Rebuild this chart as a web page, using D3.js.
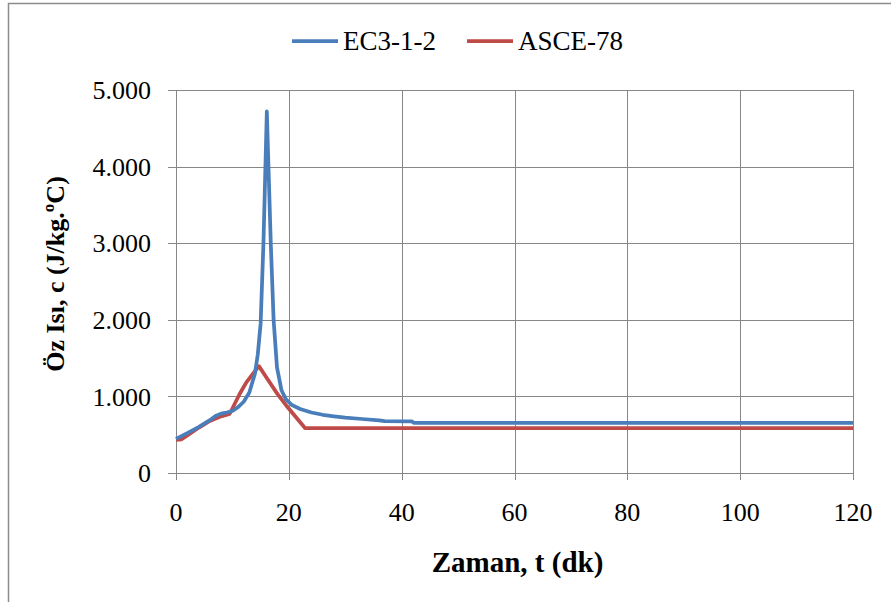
<!DOCTYPE html>
<html>
<head>
<meta charset="utf-8">
<script src="https://cdn.jsdelivr.net/npm/d3@7"></script>
<style>
  body { margin: 0; background: #fff; }
  svg { display: block; }
</style>
</head>
<body>
<svg id="chart" width="891" height="602"></svg>
<script>
// series names
const seriesNames = ['EC3-1-2', 'ASCE-78'];

// EC3-1-2 curve (time in min, specific heat J/kg.C)
const ecTime = [0, 2, 4, 6, 7, 8, 9, 10, 11, 12, 13, 14, 14.5, 15, 15.5, 16.1, 16.8, 17.3, 17.9, 18.7, 19.5, 20.5, 22, 24, 26, 28, 30, 33, 36, 37, 41.8, 42.2, 120];
const ecValue = [445, 520, 600, 690, 745, 775, 790, 810, 860, 930, 1050, 1300, 1550, 1950, 3000, 4720, 3000, 2000, 1380, 1080, 960, 890, 835, 790, 760, 740, 722, 705, 686, 676, 674, 653, 653];

// ASCE-78 curve
const asceTime = [0, 1, 2, 4, 6, 8, 9.5, 11.3, 12.5, 14.7, 16, 18, 19.5, 22.9, 120];
const asceValue = [432, 440, 490, 590, 680, 740, 770, 1035, 1187, 1395, 1250, 1030, 885, 585, 585];

const xTicks = [0, 20, 40, 60, 80, 100, 120];
const yTicks = [0, 1000, 2000, 3000, 4000, 5000];

const svg = d3.select('#chart');
const serif = 'Liberation Serif, Times New Roman, serif';

// outer frame
svg.append('rect')
    .attr('x', 8.5).attr('y', 3.5)
    .attr('width', 900).attr('height', 610)
    .attr('fill', 'none')
    .attr('stroke', '#8c8c8c')
    .attr('stroke-width', 1.5);

const x = d3.scaleLinear().domain([0, 120]).range([176, 853]);
const y = d3.scaleLinear().domain([0, 5000]).range([473, 90]);

const fmt = d => d === 0 ? '0' : d3.format(',')(d).replace(',', '.');

// gridlines
svg.append('g')
    .selectAll('line')
    .data(yTicks)
    .join('line')
    .attr('x1', x(0) - 8).attr('x2', x(120))
    .attr('y1', d => Math.round(y(d)) + 0.5).attr('y2', d => Math.round(y(d)) + 0.5)
    .attr('stroke', '#878787').attr('stroke-width', 1);

svg.append('g')
    .selectAll('line')
    .data(xTicks)
    .join('line')
    .attr('x1', d => Math.round(x(d)) + 0.5).attr('x2', d => Math.round(x(d)) + 0.5)
    .attr('y1', y(5000)).attr('y2', y(0) + 7)
    .attr('stroke', '#878787').attr('stroke-width', 1);

// tick labels
svg.append('g')
    .selectAll('text')
    .data(yTicks)
    .join('text')
    .attr('x', 151)
    .attr('y', d => y(d))
    .attr('dy', '0.35em')
    .attr('text-anchor', 'end')
    .attr('font-family', serif)
    .attr('font-size', 26)
    .text(fmt);

svg.append('g')
    .selectAll('text')
    .data(xTicks)
    .join('text')
    .attr('x', d => x(d))
    .attr('y', 521)
    .attr('text-anchor', 'middle')
    .attr('font-family', serif)
    .attr('font-size', 26)
    .text(d => d);

// axis titles
svg.append('text')
    .attr('x', (x(0) + x(120)) / 2 + 3)
    .attr('y', 572)
    .attr('text-anchor', 'middle')
    .attr('font-family', serif)
    .attr('font-weight', 'bold')
    .attr('font-size', 29)
    .text('Zaman, t (dk)');

svg.append('text')
    .attr('transform', 'translate(64,274) rotate(-90)')
    .attr('text-anchor', 'middle')
    .attr('font-family', serif)
    .attr('font-weight', 'bold')
    .attr('font-size', 26)
    .text('Öz Isı, c (J/kg.ºC)');

// lines
const line = d3.line().x(d => x(d[0])).y(d => y(d[1]));
const colors = ['#4a7ebb', '#be4b48'];
const series = [
    d3.zip(ecTime, ecValue),
    d3.zip(asceTime, asceValue)
];

svg.append('g')
    .selectAll('path')
    .data(series.slice().reverse())
    .join('path')
    .attr('d', line)
    .attr('fill', 'none')
    .attr('stroke', (d, i) => colors[1 - i])
    .attr('stroke-width', 3.75)
    .attr('stroke-linejoin', 'round');

// legend
const legendX = [292, 467];
const legend = svg.append('g')
    .selectAll('g')
    .data(seriesNames)
    .join('g')
    .attr('transform', (d, i) => `translate(${legendX[i]},41)`);

legend.append('line')
    .attr('x1', 0).attr('x2', 46)
    .attr('stroke', (d, i) => colors[i])
    .attr('stroke-width', 3.75);

legend.append('text')
    .attr('x', 51)
    .attr('dy', '0.35em')
    .attr('font-family', serif)
    .attr('font-size', 27)
    .text(d => d);
</script>
</body>
</html>
